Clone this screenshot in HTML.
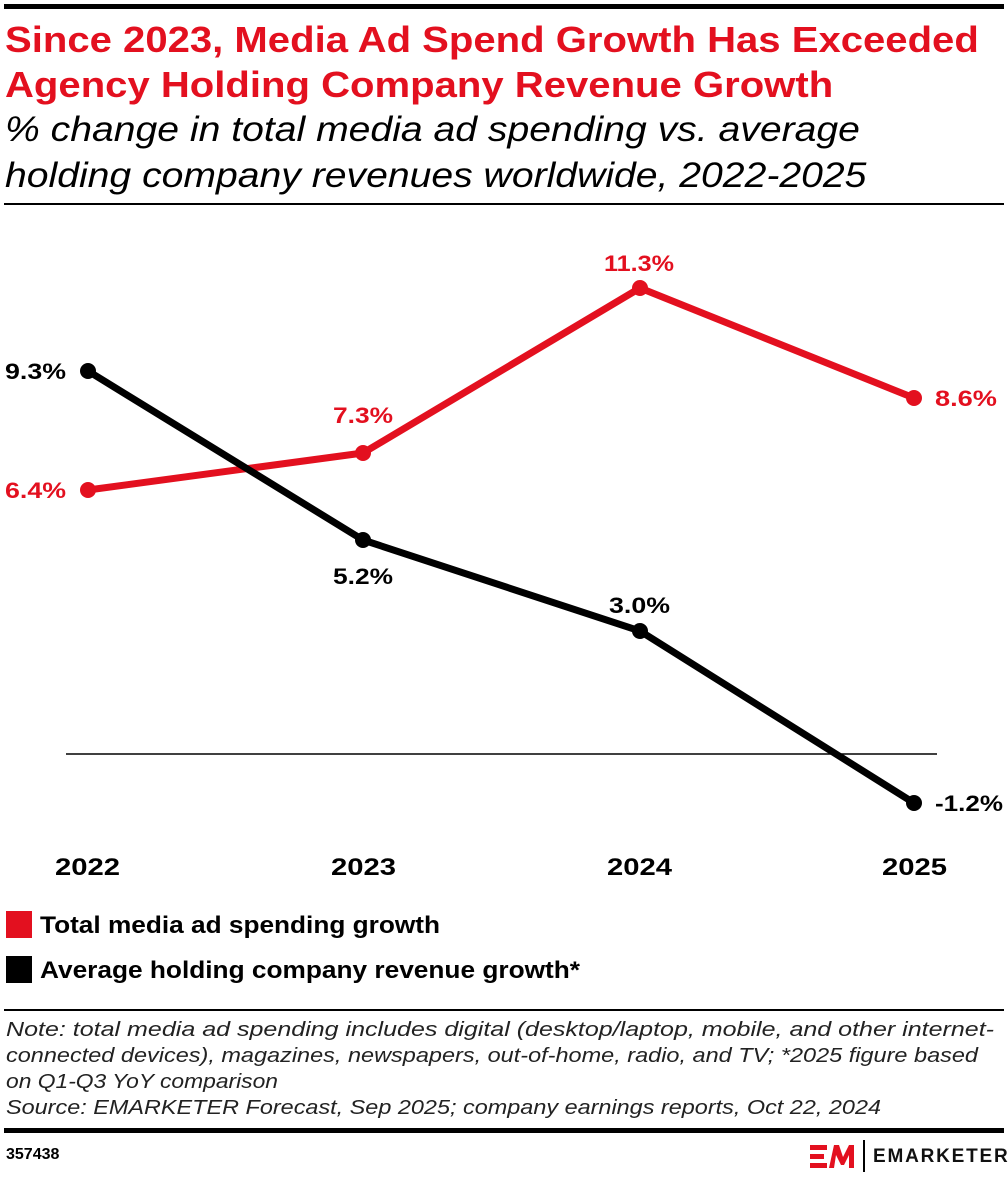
<!DOCTYPE html>
<html><head><style>
body{margin:0;width:1008px;height:1178px;background:#fff;font-family:"Liberation Sans",sans-serif;position:relative;overflow:hidden}
.a{position:absolute;white-space:nowrap}
.s{transform-origin:0 0}
</style></head><body>
<div class="a" style="left:4px;top:4px;width:1000px;height:5px;background:#000"></div>
<div class="a s" style="left:5px;top:17px;font-size:36px;font-weight:bold;color:#e3101f;line-height:45px;transform:scaleX(1.113)">Since 2023, Media Ad Spend Growth Has Exceeded<br>Agency Holding Company Revenue Growth</div>
<div class="a s" style="left:5px;top:107px;font-size:35px;font-style:italic;color:#000;line-height:46px;transform:scaleX(1.118)">% change in total media ad spending vs. average<br>holding company revenues worldwide, 2022-2025</div>
<div class="a" style="left:4px;top:203px;width:1000px;height:2px;background:#000"></div>
<svg class="a" style="left:0;top:0" width="1008" height="1178">
<line x1="66" y1="754" x2="937" y2="754" stroke="#000" stroke-width="1.5"/>
<polyline points="88,490 363,453 640,288 914,398" fill="none" stroke="#e3101f" stroke-width="7" stroke-linejoin="round"/>
<polyline points="88,371 363,540 640,631 914,803" fill="none" stroke="#000" stroke-width="7" stroke-linejoin="round"/>
<g fill="#e3101f"><circle cx="88" cy="490" r="8"/><circle cx="363" cy="453" r="8"/><circle cx="640" cy="288" r="8"/><circle cx="914" cy="398" r="8"/></g>
<g fill="#000"><circle cx="88" cy="371" r="8"/><circle cx="363" cy="540" r="8"/><circle cx="640" cy="631" r="8"/><circle cx="914" cy="803" r="8"/></g>
<g font-family="Liberation Sans" font-weight="bold" font-size="22" fill="#e3101f">
<text x="5" y="498" textLength="61" lengthAdjust="spacingAndGlyphs">6.4%</text><text x="333" y="423" textLength="60" lengthAdjust="spacingAndGlyphs">7.3%</text><text x="604" y="271" textLength="70" lengthAdjust="spacingAndGlyphs">11.3%</text><text x="935" y="406" textLength="62" lengthAdjust="spacingAndGlyphs">8.6%</text></g>
<g font-family="Liberation Sans" font-weight="bold" font-size="22" fill="#000">
<text x="5" y="379" textLength="61" lengthAdjust="spacingAndGlyphs">9.3%</text><text x="333" y="584" textLength="60" lengthAdjust="spacingAndGlyphs">5.2%</text><text x="609" y="613" textLength="61" lengthAdjust="spacingAndGlyphs">3.0%</text><text x="935" y="811" textLength="68" lengthAdjust="spacingAndGlyphs">-1.2%</text></g>
<g font-family="Liberation Sans" font-weight="bold" font-size="24" fill="#000">
<text x="55" y="875" textLength="65" lengthAdjust="spacingAndGlyphs">2022</text><text x="331" y="875" textLength="65" lengthAdjust="spacingAndGlyphs">2023</text><text x="607" y="875" textLength="65" lengthAdjust="spacingAndGlyphs">2024</text><text x="882" y="875" textLength="65" lengthAdjust="spacingAndGlyphs">2025</text></g>
<rect x="6" y="911" width="26" height="27" fill="#e3101f"/><rect x="6" y="956" width="26" height="27" fill="#000"/>
<g font-family="Liberation Sans" font-weight="bold" font-size="24" fill="#000">
<text x="40" y="933" textLength="400" lengthAdjust="spacingAndGlyphs">Total media ad spending growth</text><text x="40" y="978" textLength="540" lengthAdjust="spacingAndGlyphs">Average holding company revenue growth*</text></g>
<g font-family="Liberation Sans" font-style="italic" font-size="20" fill="#222">
<text x="6" y="1036" textLength="988" lengthAdjust="spacingAndGlyphs">Note: total media ad spending includes digital (desktop/laptop, mobile, and other internet-</text>
<text x="6" y="1062" textLength="972" lengthAdjust="spacingAndGlyphs">connected devices), magazines, newspapers, out-of-home, radio, and TV; *2025 figure based</text>
<text x="6" y="1088" textLength="272" lengthAdjust="spacingAndGlyphs">on Q1-Q3 YoY comparison</text>
<text x="6" y="1114" textLength="875" lengthAdjust="spacingAndGlyphs">Source: EMARKETER Forecast, Sep 2025; company earnings reports, Oct 22, 2024</text></g>
</svg>
<div class="a" style="left:4px;top:1009px;width:1000px;height:2px;background:#000"></div>
<div class="a" style="left:4px;top:1128px;width:1000px;height:5px;background:#000"></div>
<div class="a" style="left:6px;top:1146px;font-size:16px;font-weight:bold">357438</div>
<svg class="a" style="left:810px;top:1145px" width="50" height="25">
<g fill="#e3101f"><rect x="0" y="0" width="17" height="5"/><rect x="0" y="9" width="14" height="5"/><rect x="0" y="18" width="17" height="5"/>
<polygon points="19,23 24,0 29,0 33,12 39,0 44,0 44,23 39,23 39,10 34,20 31,20 26,10 24,23"/></g></svg>
<div class="a" style="left:863px;top:1140px;width:2px;height:32px;background:#000"></div>
<div class="a" style="left:873px;top:1146px;font-size:19px;font-weight:bold;letter-spacing:1.8px;color:#111">EMARKETER</div>
</body></html>
